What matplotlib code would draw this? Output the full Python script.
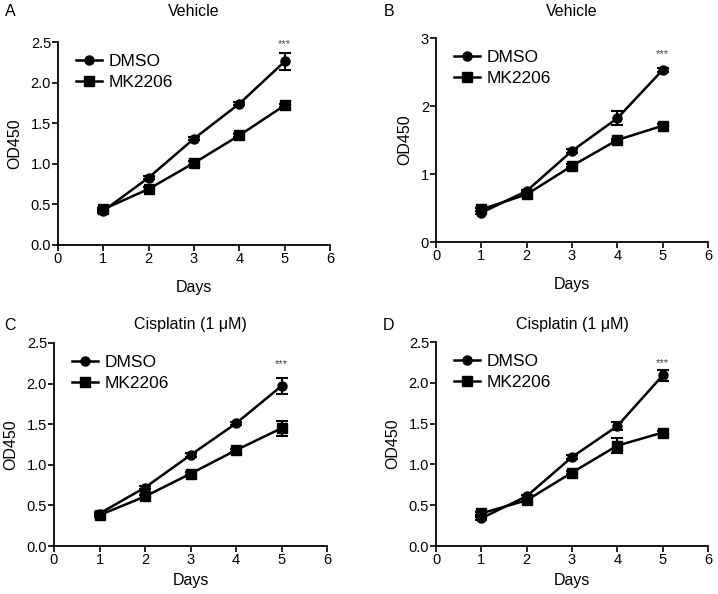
import numpy as np
import matplotlib.pyplot as plt
from matplotlib.lines import Line2D

plt.rcParams['font.family'] = ['Liberation Sans', 'DejaVu Sans']

days = [1, 2, 3, 4, 5]

# panel A - Vehicle
a_dmso = [0.42, 0.83, 1.31, 1.74, 2.26]
a_dmso_err = [0.02, 0.02, 0.02, 0.02, 0.11]
a_mk = [0.44, 0.69, 1.01, 1.35, 1.72]
a_mk_err = [0.02, 0.02, 0.02, 0.02, 0.02]

# panel B - Vehicle
b_dmso = [0.43, 0.75, 1.34, 1.82, 2.53]
b_dmso_err = [0.02, 0.02, 0.03, 0.10, 0.03]
b_mk = [0.48, 0.70, 1.12, 1.50, 1.71]
b_mk_err = [0.02, 0.02, 0.02, 0.02, 0.02]

# panel C - Cisplatin
c_dmso = [0.40, 0.72, 1.12, 1.51, 1.97]
c_dmso_err = [0.02, 0.02, 0.02, 0.02, 0.10]
c_mk = [0.38, 0.61, 0.89, 1.18, 1.45]
c_mk_err = [0.02, 0.02, 0.02, 0.02, 0.09]

# panel D - Cisplatin
d_dmso = [0.34, 0.61, 1.09, 1.47, 2.09]
d_dmso_err = [0.02, 0.02, 0.02, 0.05, 0.07]
d_mk = [0.40, 0.56, 0.90, 1.23, 1.39]
d_mk_err = [0.02, 0.02, 0.02, 0.09, 0.02]

panels = [
    ('A', 'Vehicle', a_dmso, a_dmso_err, a_mk, a_mk_err, 2.5, [0, 0.5, 1.0, 1.5, 2.0, 2.5], '%.1f', 2.47),
    ('B', 'Vehicle', b_dmso, b_dmso_err, b_mk, b_mk_err, 3, [0, 1, 2, 3], '%d', 2.76),
    ('C', 'Cisplatin (1 μM)', c_dmso, c_dmso_err, c_mk, c_mk_err, 2.5, [0, 0.5, 1.0, 1.5, 2.0, 2.5], '%.1f', 2.24),
    ('D', 'Cisplatin (1 μM)', d_dmso, d_dmso_err, d_mk, d_mk_err, 2.5, [0, 0.5, 1.0, 1.5, 2.0, 2.5], '%.1f', 2.24),
]

# axes boxes in pixels: left, top, right, bottom
boxes = [(58, 42, 330, 245), (436, 38, 708, 242), (54, 343, 327, 546), (436, 342, 708, 546)]

W, H = 718, 594
fig = plt.figure(figsize=(W / 100, H / 100), dpi=100)

handles = [Line2D([], [], color='black', lw=1.8, marker='o', ms=6.5),
           Line2D([], [], color='black', lw=1.8, marker='s', ms=7)]

for (lab, title, dm, dme, mk, mke, ymax, yt, fmt, star_y), (l, t, r, b) in zip(panels, boxes):
    ax = fig.add_axes([l / W, (H - b) / H, (r - l) / W, (b - t) / H])
    ax.errorbar(days, dm, yerr=dme, color='black', lw=1.8, marker='o', ms=6.5,
                capsize=4, capthick=1.5, elinewidth=1.5)
    ax.errorbar(days, mk, yerr=mke, color='black', lw=1.8, marker='s', ms=7,
                capsize=4, capthick=1.5, elinewidth=1.5)
    ax.set_xlim(0, 6)
    ax.set_ylim(0, ymax)
    ax.set_xticks(range(7))
    ax.set_yticks(yt)
    ax.set_yticklabels([fmt % v for v in yt])
    ax.spines['top'].set_visible(False)
    ax.spines['right'].set_visible(False)
    ax.spines['left'].set_linewidth(1.3)
    ax.spines['bottom'].set_linewidth(1.3)
    ax.tick_params(direction='out', length=4, width=1.2, labelsize=10.5, pad=1)
    for tl in ax.get_xticklabels() + ax.get_yticklabels():
        tl.set_family(['Liberation Sans Narrow', 'Liberation Sans'])
    ax.set_ylabel('OD450', fontsize=11.5, labelpad=6)
    ax.set_xlabel('Days', fontsize=11.5, labelpad=10 if lab in 'AB' else 4)
    ax.text(5, star_y, '***', ha='center', va='center', fontsize=8, color='#444444')
    ax.legend(handles, ['DMSO', 'MK2206'], loc='upper left', bbox_to_anchor=(0.02, 1.0),
              frameon=False, fontsize=12.5, handlelength=1.5, handletextpad=0.4,
              labelspacing=0.3, borderaxespad=0.3)
    # title and panel letter
    title_y = 12 if lab in 'AB' else 325
    fig.text((l + r) / 2 / W, 1 - title_y / H, title, ha='center', va='center', fontsize=11.5)
    lx = 10 if lab in 'AC' else 389
    fig.text(lx / W, 1 - title_y / H, lab, ha='center', va='center', fontsize=11.5)

fig.savefig('out.png', dpi=100)
